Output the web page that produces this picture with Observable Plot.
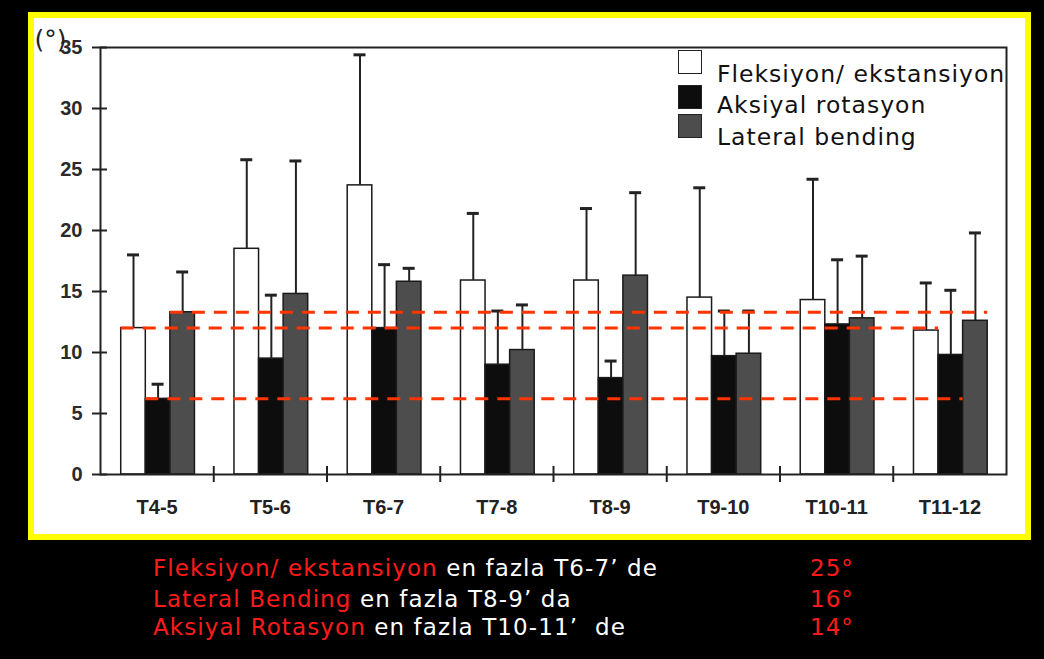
<!DOCTYPE html>
<html>
<head>
<meta charset="utf-8">
<script src="https://cdn.jsdelivr.net/npm/d3@7"></script>
<script src="https://cdn.jsdelivr.net/npm/@observablehq/plot@0.6"></script>
<style>
  html, body { margin: 0; padding: 0; background: #000; }
  body { width: 1044px; height: 659px; overflow: hidden; position: relative; font-family: "DejaVu Sans", sans-serif; }
  #panel { position: absolute; left: 28px; top: 12px; width: 991px; height: 516px; border: 6px solid #ffff00; background: #fff; }
  #panel svg { position: absolute; left: 0; top: 0; }
  .leg-sw { position: absolute; width: 24px; height: 24px; box-sizing: border-box; border: 1.5px solid #222; }
  .leg-tx { position: absolute; left: 683px; font-size: 23.5px; letter-spacing: 1px; line-height: 26px; color: #111; white-space: nowrap; }
  .note { position: absolute; left: 153px; font-size: 23px; letter-spacing: 1.1px; line-height: 26px; color: #fff; white-space: nowrap; }
  .note .r { color: #ff1a1a; }
  .deg { position: absolute; left: 810px; font-size: 23px; letter-spacing: 1px; line-height: 26px; color: #ff1a1a; }
</style>
</head>
<body>
<div id="panel">
  <div id="chart"></div>
  <div class="leg-sw" style="left:644px;top:32px;background:#fff"></div>
  <div class="leg-tx" style="top:43px">Fleksiyon/ ekstansiyon</div>
  <div class="leg-sw" style="left:644px;top:67px;background:#0d0d0d"></div>
  <div class="leg-tx" style="top:74px">Aksiyal rotasyon</div>
  <div class="leg-sw" style="left:644px;top:96px;background:#4d4d4d"></div>
  <div class="leg-tx" style="top:106px">Lateral bending</div>
</div>
<div class="note" style="top:555px"><span class="r">Fleksiyon/ ekstansiyon</span> en fazla T6-7’ de</div>
<div class="note" style="top:586px"><span class="r">Lateral Bending</span> en fazla T8-9’ da</div>
<div class="note" style="top:614px"><span class="r">Aksiyal Rotasyon</span> en fazla T10-11’&nbsp; de</div>
<div class="deg" style="top:555px">25°</div>
<div class="deg" style="top:586px">16°</div>
<div class="deg" style="top:614px">14°</div>

<script>
// ---- data ----
const categories = ["T4-5", "T5-6", "T6-7", "T7-8", "T8-9", "T9-10", "T10-11", "T11-12"];
const seriesNames = ["Fleksiyon/ ekstansiyon", "Aksiyal rotasyon", "Lateral bending"];
const flexMean  = [12.0, 18.5, 23.7, 15.9, 15.9, 14.5, 14.3, 11.8];
const flexTop   = [18.0, 25.8, 34.4, 21.4, 21.8, 23.5, 24.2, 15.7];
const axialMean = [6.2, 9.5, 12.0, 9.0, 7.9, 9.7, 12.3, 9.8];
const axialTop  = [7.4, 14.7, 17.2, 13.4, 9.3, 13.4, 17.6, 15.1];
const latMean   = [13.3, 14.8, 15.8, 10.2, 16.3, 9.9, 12.8, 12.6];
const latTop    = [16.6, 25.7, 16.9, 13.9, 23.1, 13.4, 17.9, 19.8];
const yTicks    = [0, 5, 10, 15, 20, 25, 30, 35];

// ---- build table ----
const means = [flexMean, axialMean, latMean];
const tops = [flexTop, axialTop, latTop];
const fills = ["#ffffff", "#0d0d0d", "#4d4d4d"];
const PAD = 0.183, BW = 0.217;
const rows = categories.flatMap((c, i) => seriesNames.map((s, k) => ({
  cat: c, i, k, series: s, mean: means[k][i], top: tops[k][i],
  x1: i + PAD + k * BW, x2: i + PAD + (k + 1) * BW, xc: i + PAD + (k + 0.5) * BW
})));
// reference (red dashed) lines at each series' T4-5 value, spanning from its first to its last bar
const last = categories.length - 1;
const refOrder = [2, 0, 1];
const refs = refOrder.map(k => ({
  value: means[k][0],
  x1: PAD + k * BW,
  x2: last + PAD + (k + 1) * BW
}));

const chart = Plot.plot({
  width: 991,
  height: 516,
  marginLeft: 66,
  marginRight: 19,
  marginTop: 29,
  marginBottom: 60,
  style: { fontFamily: "'Liberation Sans', Arial, sans-serif", background: "transparent", overflow: "visible" },
  x: { type: "linear", domain: [0, categories.length], axis: null },
  y: { domain: [0, 35], axis: null },
  marks: [
    Plot.rectY(rows, { x1: "x1", x2: "x2", y1: 0, y2: "mean", fill: d => fills[d.k], stroke: "#1a1a1a", strokeWidth: 1.5 }),
    Plot.ruleX(rows, { x: "xc", y1: "mean", y2: "top", stroke: "#222", strokeWidth: 2 }),
    Plot.ruleY(rows, { y: "top", x1: "xc", x2: "xc", insetLeft: -6, insetRight: -6, stroke: "#222", strokeWidth: 3 }),
    Plot.ruleY(refs, { y: "value", x1: "x1", x2: "x2", stroke: "#ff3300", strokeWidth: 3, strokeDasharray: "13,9" }),
    Plot.frame({ stroke: "#222", strokeWidth: 2 }),
    Plot.axisY({ ticks: yTicks, tickSize: 8, tickPadding: 10, fontSize: 20, fontWeight: "bold", fill: "#2a2a2a", stroke: "#222", strokeWidth: 2, label: null }),
    Plot.ruleY(yTicks, { y: d => d, x1: 0, x2: 0, insetRight: -7, stroke: "#222", strokeWidth: 2 }),
    Plot.ruleX(d3.range(1, categories.length), { x: d => d, y1: 0, y2: 0, insetTop: -8, insetBottom: -8, stroke: "#222", strokeWidth: 2 }),
    Plot.text(categories, { x: (d, i) => i + 0.5, y: 0, dy: 33, text: d => d, fontSize: 20, fontWeight: "bold", fill: "#222" }),
    Plot.text(["(°)"], { frameAnchor: "top-left", dx: -66, dy: -8, textAnchor: "start", lineAnchor: "middle", fontSize: 25, fill: "#222", fontFamily: "'DejaVu Sans', sans-serif" })
  ]
});
document.getElementById("chart").appendChild(chart);
</script>
</body>
</html>
